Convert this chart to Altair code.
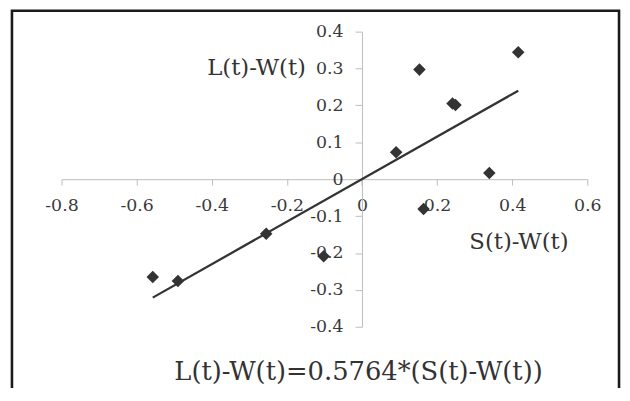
import altair as alt
import pandas as pd

# Data
s_minus_w = [-0.557, -0.490, -0.255, -0.102, 0.091, 0.153, 0.164, 0.241, 0.249, 0.339, 0.416]
l_minus_w = [-0.265, -0.276, -0.148, -0.209, 0.073, 0.297, -0.081, 0.205, 0.201, 0.017, 0.344]
slope = 0.5764
x_ticks = [-0.8, -0.6, -0.4, -0.2, 0.0, 0.2, 0.4, 0.6]
y_ticks = [-0.4, -0.3, -0.2, -0.1, 0.0, 0.1, 0.2, 0.3, 0.4]
y_title = "L(t)-W(t)"
x_title = "S(t)-W(t)"
equation = "L(t)-W(t)=0.5764*(S(t)-W(t))"

points = pd.DataFrame({"x": s_minus_w, "y": l_minus_w})
trend_x = [min(s_minus_w), max(s_minus_w)]
trend = pd.DataFrame({"x": trend_x, "y": [slope * v for v in trend_x]})

W, H = 531, 298
FONT = "DejaVu Serif"
label_expr = "datum.value < 0 ? '-' + format(-datum.value, '.1~f') : format(datum.value, '.1~f')"

xscale = alt.Scale(domain=[-0.8, 0.6], nice=False, zero=False)
yscale = alt.Scale(domain=[-0.4, 0.4], nice=False, zero=False)


def x_axis():
    return alt.Axis(
        values=x_ticks, orient="bottom", offset=-H / 2, title=None, grid=False,
        labelExpr=label_expr, labelFont=FONT, labelFontSize=17.5, labelColor="#3a3a3a",
        domainColor="#bdbdbd", tickColor="#bdbdbd", tickSize=6, labelPadding=12,
        labelOverlap=False, labelFlush=False, tickCount=8,
    )


def y_axis():
    return alt.Axis(
        values=y_ticks, orient="left", offset=-W * 0.8 / 1.4, title=None, grid=False,
        labelExpr=label_expr, labelFont=FONT, labelFontSize=17.5, labelColor="#3a3a3a",
        domainColor="#bdbdbd", tickColor="#bdbdbd", tickSize=7, labelPadding=12,
        labelOverlap=False, labelFlush=False, tickCount=9,
    )


dummy = pd.DataFrame({"a": [0]})

frame = alt.Chart(dummy).mark_rect(filled=False, stroke="#1a1a1a", strokeWidth=2.6).encode(
    x=alt.value(-50), x2=alt.value(563), y=alt.value(-21), y2=alt.value(420)
)

line = alt.Chart(trend).mark_line(color="#333333", strokeWidth=2.3).encode(
    x=alt.X("x:Q", scale=xscale, axis=x_axis()),
    y=alt.Y("y:Q", scale=yscale, axis=y_axis()),
)

pts = alt.Chart(points).mark_point(shape="diamond", filled=True, size=160, color="#333333", opacity=1).encode(
    x=alt.X("x:Q", scale=xscale, axis=x_axis()),
    y=alt.Y("y:Q", scale=yscale, axis=y_axis()),
)

t1 = alt.Chart(dummy).mark_text(text=y_title, font=FONT, fontSize=23,
                                color="#333333", align="center", baseline="middle").encode(
    x=alt.value(197), y=alt.value(37)
)
t2 = alt.Chart(dummy).mark_text(text=x_title, font=FONT, fontSize=23,
                                color="#333333", align="center", baseline="middle").encode(
    x=alt.value(462), y=alt.value(213)
)
t3 = alt.Chart(dummy).mark_text(text=equation, font=FONT, fontSize=26,
                                color="#333333", align="center", baseline="middle").encode(
    x=alt.value(300), y=alt.value(344)
)

chart = alt.layer(frame, line, pts, t1, t2, t3).properties(
    width=W, height=H,
    autosize="none",
    background="white",
    padding={"left": 54, "top": 22, "right": 35, "bottom": 60},
).configure_view(stroke=None).configure_axis(labelOverlap=False)

chart.save("out.html", embed_options={"renderer": "svg", "actions": False})
